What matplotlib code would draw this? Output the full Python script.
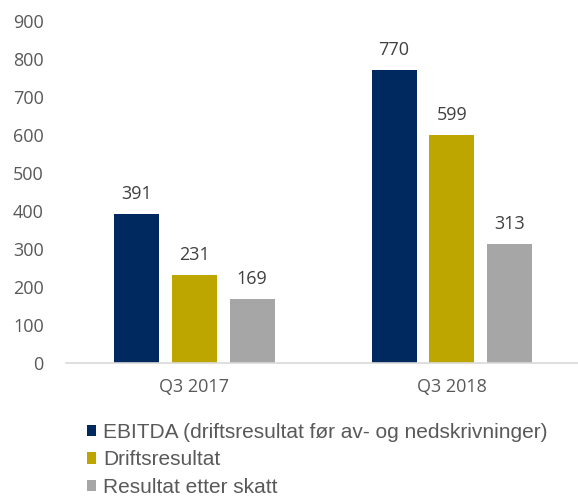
import numpy as np
import matplotlib.pyplot as plt

# ── data ──────────────────────────────────────────────────────────────────────
categories = ['Q3 2017', 'Q3 2018']
series_names = ['EBITDA (driftsresultat før av- og nedskrivninger)',
                'Driftsresultat',
                'Resultat etter skatt']
ebitda = [391, 770]
drift = [231, 599]
etter_skatt = [169, 313]

COLORS = ['#002960', '#BDA600', '#A6A6A6']
TXT = '#595959'

fig = plt.figure(figsize=(5.78, 4.96), dpi=100)
ax = fig.add_axes([0.114, 0.268, 0.89, 0.690])

x = np.arange(len(categories))
width = 0.175
step = 0.224
handles = []
for i, (vals, col) in enumerate(zip([ebitda, drift, etter_skatt], COLORS)):
    bars = ax.bar(x + (i - 1) * step, vals, width, color=col, label=series_names[i])
    handles.append(bars)
    for b, v in zip(bars, vals):
        ax.annotate(f'{v}', (b.get_x() + b.get_width() / 2, v),
                    textcoords='offset points', xytext=(0, 8),
                    ha='center', va='bottom', color='#404040', fontsize=13,
                    family='Open Sans')

ax.set_xlim(-0.5, 1.5)
ax.set_ylim(0, 900)
ax.set_yticks(range(0, 901, 100))
ax.set_xticks(x)
ax.set_xticklabels(categories)
for sp in ['top', 'right', 'left']:
    ax.spines[sp].set_visible(False)
ax.spines['bottom'].set_color('#D9D9D9')
ax.spines['bottom'].set_linewidth(1.2)
ax.tick_params(axis='both', length=0, colors=TXT, labelsize=13)
ax.tick_params(axis='y', pad=16)
ax.tick_params(axis='x', pad=11)
for lab in ax.get_xticklabels() + ax.get_yticklabels():
    lab.set_family('Open Sans')

fig.legend(handles=handles, loc='upper left', bbox_to_anchor=(0.15, 0.148),
           frameon=False, handlelength=0.45, handleheight=0.45,
           handletextpad=0.35, labelspacing=0.42, labelcolor=TXT,
           borderaxespad=0, borderpad=0,
           prop={'family': 'Liberation Sans', 'size': 15})

fig.savefig('out.png', dpi=100, facecolor='white')
